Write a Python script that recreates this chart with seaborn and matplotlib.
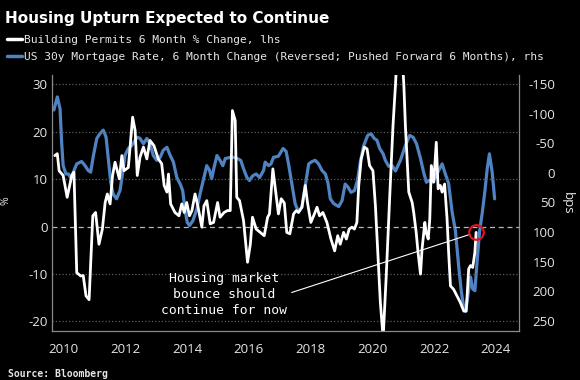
import matplotlib
matplotlib.use("Agg")
import matplotlib.pyplot as plt
from matplotlib.lines import Line2D
import seaborn as sns

# Building permits, 6 month % change (lhs), dates as decimal years
permit_dates = [2009.72, 2009.80, 2009.86, 2009.99, 2010.12, 2010.27, 2010.34, 2010.43, 2010.56, 2010.64,
                2010.73, 2010.83, 2010.95, 2011.04, 2011.15, 2011.26, 2011.35, 2011.42, 2011.51, 2011.59,
                2011.67, 2011.81, 2011.89, 2011.96, 2012.10, 2012.24, 2012.32, 2012.39, 2012.48, 2012.59,
                2012.70, 2012.80, 2012.93, 2013.07, 2013.18, 2013.26, 2013.35, 2013.40, 2013.47, 2013.61,
                2013.74, 2013.83, 2013.91, 2013.99, 2014.08, 2014.16, 2014.26, 2014.35, 2014.48, 2014.55,
                2014.64, 2014.75, 2014.86, 2014.99, 2015.07, 2015.20, 2015.31, 2015.40, 2015.47, 2015.56,
                2015.61, 2015.70, 2015.83, 2015.96, 2016.05, 2016.12, 2016.24, 2016.37, 2016.50, 2016.61,
                2016.67, 2016.78, 2016.86, 2016.96, 2017.05, 2017.15, 2017.23, 2017.33, 2017.45, 2017.54,
                2017.61, 2017.72, 2017.83, 2017.90, 2018.01, 2018.10, 2018.21, 2018.29, 2018.40, 2018.53,
                2018.66, 2018.78, 2018.88, 2018.96, 2019.07, 2019.16, 2019.25, 2019.34, 2019.42, 2019.50,
                2019.56, 2019.64, 2019.74, 2019.83, 2019.91, 2020.02, 2020.10, 2020.17, 2020.26, 2020.35,
                2020.45, 2020.56, 2020.67, 2020.75, 2020.88, 2021.02, 2021.07, 2021.18, 2021.29, 2021.34,
                2021.42, 2021.48, 2021.56, 2021.61, 2021.70, 2021.74, 2021.81, 2021.86, 2021.91, 2021.99,
                2022.07, 2022.13, 2022.20, 2022.26, 2022.34, 2022.42, 2022.47, 2022.53, 2022.63, 2022.74,
                2022.85, 2022.96, 2023.04, 2023.12, 2023.18, 2023.25, 2023.32, 2023.36]
permit_chg = [15.0, 15.4, 11.8, 10.8, 6.2, 10.8, 11.5, -9.7, -10.4, -10.3,
              -14.6, -15.4, 2.3, 3.0, -3.7, -0.5, 5.1, 6.9, 4.8, 10.8,
              13.6, 10.1, 15.0, 11.8, 12.5, 23.1, 20.3, 10.8, 14.7, 16.8,
              14.3, 18.2, 17.1, 14.3, 13.3, 8.7, 7.3, 11.1, 4.8, 3.0,
              2.3, 4.8, 3.0, 5.1, 2.3, 3.4, 6.9, 4.4, -0.1, 4.4,
              5.5, 0.6, 0.9, 5.1, 2.0, 3.0, 3.4, 3.4, 24.5, 22.4,
              6.2, 5.5, 1.3, -7.5, -3.7, 2.0, -0.5, -1.2, -1.9, 2.0,
              2.7, 12.2, 8.0, 2.7, 5.9, 5.0, -1.2, -1.5, 2.7, 3.4,
              3.0, 4.1, 8.7, 5.1, 0.9, 2.3, 4.1, 2.3, 3.0, 0.9,
              -2.6, -5.1, -1.9, -3.7, -1.2, -2.6, -0.5, -0.1, -0.5, 0.9,
              8.7, 14.3, 16.8, 16.4, 12.9, 11.8, 4.4, -4.7, -16.0, -23.5,
              -10.4, 5.9, 21.4, 30.0, 46.0, 30.0, 21.4, 7.3, 5.1, 3.0,
              -1.2, -5.4, -10.0, -4.7, 0.9, -1.2, -2.6, 1.6, 12.9, 9.4,
              17.8, 8.0, 8.7, 7.3, 9.0, 1.6, -5.4, -12.5, -13.2, -14.6,
              -16.0, -17.8, -17.8, -8.9, -8.2, -8.6, -5.4, -1.2]

# US 30y mortgage rate, 6 month change in bps (reversed, pushed forward 6 months), rhs
mort_dates = [2009.69, 2009.80, 2009.89, 2009.94, 2009.99, 2010.08, 2010.16, 2010.23, 2010.32, 2010.43,
              2010.59, 2010.70, 2010.80, 2010.88, 2010.97, 2011.08, 2011.18, 2011.29, 2011.38, 2011.45,
              2011.53, 2011.61, 2011.72, 2011.83, 2011.92, 2011.99, 2012.10, 2012.21, 2012.32, 2012.39,
              2012.48, 2012.59, 2012.70, 2012.80, 2012.91, 2013.02, 2013.13, 2013.23, 2013.35, 2013.45,
              2013.56, 2013.67, 2013.78, 2013.86, 2013.94, 2014.01, 2014.08, 2014.19, 2014.32, 2014.42,
              2014.55, 2014.64, 2014.73, 2014.80, 2014.88, 2014.97, 2015.07, 2015.16, 2015.24, 2015.40,
              2015.50, 2015.63, 2015.74, 2015.83, 2015.94, 2016.02, 2016.13, 2016.24, 2016.35, 2016.48,
              2016.53, 2016.64, 2016.72, 2016.80, 2016.96, 2017.11, 2017.21, 2017.29, 2017.40, 2017.50,
              2017.61, 2017.72, 2017.83, 2017.94, 2018.05, 2018.15, 2018.26, 2018.37, 2018.48, 2018.56,
              2018.64, 2018.75, 2018.91, 2019.02, 2019.12, 2019.21, 2019.31, 2019.42, 2019.52, 2019.61,
              2019.72, 2019.85, 2019.96, 2020.06, 2020.15, 2020.24, 2020.35, 2020.42, 2020.53, 2020.64,
              2020.75, 2020.91, 2021.07, 2021.21, 2021.32, 2021.43, 2021.56, 2021.66, 2021.75, 2021.83,
              2021.94, 2022.04, 2022.15, 2022.26, 2022.37, 2022.47, 2022.58, 2022.69, 2022.80, 2022.88,
              2022.96, 2023.02, 2023.10, 2023.18, 2023.25, 2023.32, 2023.39, 2023.47, 2023.56, 2023.64,
              2023.72, 2023.79, 2023.88, 2023.96]
mort_bps = [-106, -128, -108, -52, -12, 2, 2, 8, -1, -15,
            -19, -12, -4, -1, -29, -58, -66, -72, -60, -24,
            16, 36, 44, 30, -1, -29, -41, -46, -55, -60,
            -58, -49, -58, -49, -29, -21, -26, -38, -43, -30,
            -18, 8, 19, 30, 64, 84, 89, 81, 61, 36,
            8, -12, -4, 10, -10, -29, -21, -12, -24, -26,
            -26, -24, -21, -7, 8, 13, 5, 2, 8, -4,
            -18, -12, -15, -26, -28, -41, -36, -14, 20, 52,
            66, 58, 22, -15, -19, -21, -15, -4, 2, 16,
            44, 52, 57, 47, 19, 24, 33, 30, 13, -18,
            -46, -63, -66, -58, -55, -41, -32, -21, -11, -12,
            -3, -21, -46, -63, -60, -49, -24, -1, 16, 13,
            16, 8, -4, -15, 3, 18, 65, 98, 160, 200,
            228, 234, 205, 176, 196, 199, 151, 100, 67, 33,
            -7, -32, -1, 44]

title = "Housing Upturn Expected to Continue"
lbl_permits = "Building Permits 6 Month % Change, lhs"
lbl_mort = "US 30y Mortgage Rate, 6 Month Change (Reversed; Pushed Forward 6 Months), rhs"
note = "Housing market\nbounce should\ncontinue for now"
year_ticks = [2010, 2012, 2014, 2016, 2018, 2020, 2022, 2024]
pct_ticks = [-20, -10, 0, 10, 20, 30]
bps_ticks = [-150, -100, -50, 0, 50, 100, 150, 200, 250]

BLUE = "#4f83c2"
GRID = "#5c5c5c"
SPINE = "#8a8a8a"
TXT = "#e6e6e6"
MONO = "DejaVu Sans Mono"

sns.set_style("dark", {"axes.facecolor": "black", "figure.facecolor": "black",
                       "axes.edgecolor": SPINE, "text.color": TXT,
                       "xtick.color": TXT, "ytick.color": TXT})
plt.rcParams["font.family"] = ["Open Sans", "DejaVu Sans"]
plt.rcParams["axes.unicode_minus"] = False

fig = plt.figure(figsize=(5.8, 3.8), dpi=100)
fig.patch.set_facecolor("black")
ax = fig.add_axes([0.0897, 0.129, 0.8052, 0.6736])
ax2 = ax.twinx()
# keep the lhs series (and its grid) above the blue line
ax.set_zorder(ax2.get_zorder() + 1)
ax.patch.set_visible(False)

sns.lineplot(x=mort_dates, y=mort_bps, ax=ax2, color=BLUE, lw=2.3,
             estimator=None, sort=False)
sns.lineplot(x=permit_dates, y=permit_chg, ax=ax, color="white", lw=2.0,
             estimator=None, sort=False)

ax.set_xlim(2009.63, 2024.75)
ax.set_ylim(-22, 32)
ax2.set_ylim(267, -165)
ax.set_xticks(year_ticks)
ax.set_yticks(pct_ticks)
ax2.set_yticks(bps_ticks)

ax.grid(False)
ax2.grid(False)
ax.yaxis.grid(True, color=GRID, ls=":", lw=0.9)
for t, v in zip(ax.yaxis.get_major_ticks(), pct_ticks):
    if v == 0:
        t.gridline.set_visible(False)
ax.axhline(0, color="#b8b8b8", ls=(0, (4, 3)), lw=0.9, zorder=1)

for s in ["top", "right"]:
    ax.spines[s].set_visible(False)
for s in ["top", "left", "bottom"]:
    ax2.spines[s].set_visible(False)
for s in ["left", "bottom"]:
    ax.spines[s].set_color(SPINE)
    ax.spines[s].set_linewidth(0.9)
ax2.spines["right"].set_color(SPINE)
ax2.spines["right"].set_linewidth(0.9)

ax.tick_params(axis="x", length=3.5, width=0.9, color=SPINE, pad=5,
               labelsize=9.5, labelcolor=TXT)
ax.tick_params(axis="y", length=0, pad=3, labelsize=9.5, labelcolor=TXT)
ax2.tick_params(axis="y", length=0, pad=26, labelsize=9.5, labelcolor=TXT)
plt.setp(ax2.get_yticklabels(), ha="right")

ax.set_ylabel("%", color=TXT, fontsize=7.5)
ax.yaxis.set_label_coords(-0.086, 0.508)
ax2.set_ylabel("bps", color=TXT, fontsize=9.5, rotation=270, va="center")
ax2.yaxis.set_label_coords(1.103, 0.5)

# red circle on the latest permits reading + callout
ax.plot(permit_dates[-1], permit_chg[-1], marker="o", ms=10.5, mfc="none",
        mec="#e3101e", mew=1.6, zorder=6)
ax.annotate(note, xy=(permit_dates[-1], permit_chg[-1]), xytext=(2015.2, -14.2),
            ha="center", va="center", color="white", family=MONO, fontsize=9.4,
            linespacing=1.3,
            arrowprops=dict(arrowstyle="-", color="white", lw=0.8,
                            relpos=(1.0, 0.5), shrinkA=1, shrinkB=4.5))

fig.text(0.009, 0.940, title, fontsize=11, fontweight="bold", color="white",
         family="DejaVu Sans", va="baseline")
handles = [Line2D([], [], color="white", lw=2.5), Line2D([], [], color=BLUE, lw=2.5)]
fig.legend(handles, [lbl_permits, lbl_mort], loc="upper left",
           bbox_to_anchor=(0.0115, 0.908), frameon=False,
           prop={"family": MONO, "size": 8.1}, labelcolor=TXT,
           handlelength=1.36, handletextpad=0.15, labelspacing=0.6,
           borderpad=0, borderaxespad=0)
fig.text(0.014, 0.016, "Source: Bloomberg", fontsize=7, fontweight="bold",
         color=TXT, family=MONO, va="center")

fig.savefig("out.png", dpi=100, facecolor="black")
